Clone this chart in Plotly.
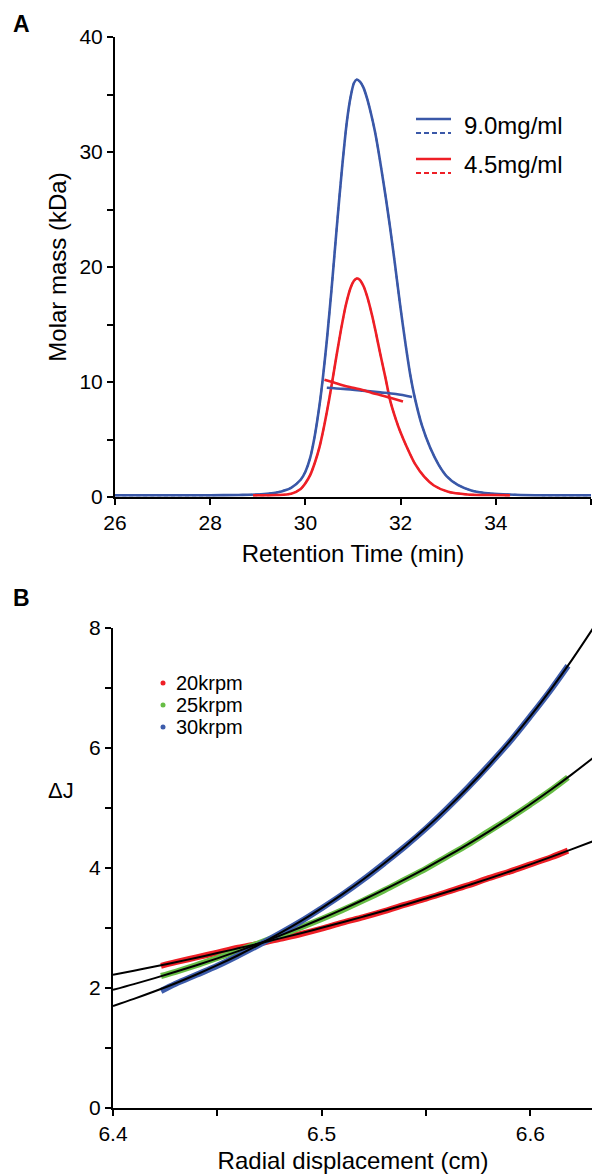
import plotly.graph_objects as go

# page body has an 8px default margin; figure coordinates are offset accordingly
OFF = 8
W, H = 600 - OFF, 1174 - OFF
FONT = "Liberation Sans, Arial, sans-serif"
BLUE = "#3a58a8"
RED = "#ee1f26"
GREEN = "#67bd45"
DBLUE = "#3d5cab"

# ---------------- Panel A data ----------------
t_blue = [26.0, 27.0, 28.0, 28.6, 29.0, 29.4, 29.7, 29.9, 30.0, 30.1, 30.2, 30.3, 30.36,
          30.45, 30.55, 30.66, 30.77, 30.87, 30.95, 31.02, 31.08, 31.15, 31.22, 31.3, 31.38,
          31.46, 31.53, 31.6, 31.69, 31.78, 31.88, 31.99, 32.1, 32.2, 32.3, 32.45, 32.62,
          32.8, 32.97, 33.2, 33.5, 33.9, 34.4, 35.0, 36.0]
m_blue = [0.15, 0.15, 0.15, 0.18, 0.22, 0.4, 0.8, 1.5, 2.2, 3.4, 5.4, 8.1, 10.1,
          13.6, 18.1, 23.5, 28.6, 32.6, 34.8, 36.0, 36.3, 36.1, 35.6, 34.6, 33.3,
          31.8, 30.2, 28.4, 26.0, 23.4, 20.3, 16.7, 13.4, 10.7, 8.6, 6.2, 4.3,
          2.8, 1.8, 1.05, 0.55, 0.3, 0.2, 0.15, 0.15]

t_red = [28.9, 29.4, 29.7, 29.9, 30.0, 30.1, 30.2, 30.3, 30.4, 30.5, 30.57, 30.65, 30.75,
         30.85, 30.95, 31.02, 31.08, 31.14, 31.22, 31.3, 31.4, 31.48, 31.57, 31.68, 31.78,
         31.9, 32.0, 32.13, 32.3, 32.5, 32.7, 33.0, 33.4, 33.9, 34.3]
m_red = [0.15, 0.17, 0.28, 0.7, 1.2, 1.9, 3.0, 4.4, 6.3, 8.5, 10.2, 12.2, 14.6,
         16.7, 18.2, 18.8, 19.0, 18.9, 18.35, 17.4, 15.8, 14.3, 12.5, 10.4, 8.4,
         6.75, 5.6, 4.35, 2.9, 1.75, 1.0, 0.45, 0.22, 0.17, 0.15]

t_mm_blue = [30.45, 30.8, 31.2, 31.57, 31.9, 32.24]
mm_blue = [9.5, 9.4, 9.25, 9.1, 8.95, 8.7]
t_mm_red = [30.4, 30.6, 30.8, 31.0, 31.2, 31.4, 31.57, 31.8, 32.05]
mm_red = [10.2, 9.95, 9.7, 9.5, 9.3, 9.05, 8.87, 8.6, 8.3]

labels_A = ["9.0mg/ml", "4.5mg/ml"]

# ---------------- Panel B data ----------------
r_fit = [6.40, 6.41, 6.42, 6.43, 6.44, 6.45, 6.46, 6.47, 6.48, 6.49, 6.50, 6.51,
         6.52, 6.53, 6.54, 6.55, 6.56, 6.57, 6.58, 6.59, 6.60, 6.61, 6.62, 6.63]
fit_20 = [2.220, 2.288, 2.358, 2.430, 2.505, 2.582, 2.661, 2.743, 2.827, 2.913, 3.003, 3.095,
          3.190, 3.287, 3.388, 3.492, 3.599, 3.710, 3.823, 3.941, 4.061, 4.186, 4.314, 4.446]
fit_25 = [1.970, 2.065, 2.165, 2.270, 2.379, 2.494, 2.615, 2.741, 2.874, 3.013, 3.158, 3.311,
          3.471, 3.639, 3.815, 3.999, 4.192, 4.395, 4.607, 4.830, 5.063, 5.308, 5.565, 5.834]
fit_30 = [1.700, 1.818, 1.945, 2.080, 2.225, 2.380, 2.546, 2.723, 2.913, 3.115, 3.332, 3.564,
          3.812, 4.078, 4.362, 4.665, 4.990, 5.337, 5.709, 6.106, 6.531, 6.986, 7.473, 7.993]

r_data = [6.423, 6.43, 6.44, 6.45, 6.46, 6.47, 6.48, 6.49, 6.50, 6.51, 6.52, 6.53, 6.54,
          6.55, 6.56, 6.57, 6.58, 6.59, 6.60, 6.61, 6.618]
dj_20 = [2.37, 2.43, 2.51, 2.59, 2.67, 2.74, 2.82, 2.90, 2.99, 3.09, 3.18, 3.28, 3.39,
         3.49, 3.60, 3.71, 3.83, 3.94, 4.06, 4.18, 4.29]
dj_25 = [2.20, 2.27, 2.38, 2.50, 2.62, 2.75, 2.88, 3.01, 3.15, 3.30, 3.46, 3.63, 3.81,
         3.99, 4.19, 4.39, 4.61, 4.83, 5.06, 5.30, 5.51]
dj_30 = [1.95, 2.07, 2.22, 2.37, 2.54, 2.72, 2.91, 3.11, 3.33, 3.56, 3.81, 4.08, 4.36,
         4.66, 4.99, 5.34, 5.71, 6.10, 6.53, 6.98, 7.37]
labels_B = ["20krpm", "25krpm", "30krpm"]


def xp(px):
    return (px - OFF) / W


def yp(py):
    return 1 - (py - OFF) / H


fig = go.Figure()

# Panel A traces
for t, m, c in [(t_blue, m_blue, BLUE), (t_red, m_red, RED)]:
    fig.add_trace(go.Scatter(x=t, y=m, mode="lines", xaxis="x", yaxis="y",
                             line=dict(color=c, width=2.6, shape="spline", smoothing=0.7),
                             showlegend=False, hoverinfo="skip"))
    fig.add_trace(go.Scatter(x=t, y=m, mode="lines", xaxis="x", yaxis="y",
                             line=dict(color=c, width=1.8, dash="4px,3px", shape="spline", smoothing=0.7),
                             showlegend=False, hoverinfo="skip"))
for t, m, c in [(t_mm_blue, mm_blue, BLUE), (t_mm_red, mm_red, RED)]:
    fig.add_trace(go.Scatter(x=t, y=m, mode="lines", xaxis="x", yaxis="y",
                             line=dict(color=c, width=2.6, shape="spline"),
                             showlegend=False, hoverinfo="skip"))

# Panel B traces
for d, c in [(dj_20, RED), (dj_25, GREEN), (dj_30, DBLUE)]:
    fig.add_trace(go.Scatter(x=r_data, y=d, mode="lines", xaxis="x2", yaxis="y2",
                             line=dict(color=c, width=6, shape="spline"),
                             showlegend=False, hoverinfo="skip"))
for f in [fit_20, fit_25, fit_30]:
    fig.add_trace(go.Scatter(x=r_fit, y=f, mode="lines", xaxis="x2", yaxis="y2",
                             line=dict(color="black", width=2, shape="spline"),
                             showlegend=False, hoverinfo="skip"))

axis_common = dict(showline=True, linecolor="black", linewidth=2, ticks="outside",
                   ticklen=6, tickwidth=2, tickcolor="black", showgrid=False,
                   zeroline=False, tickfont=dict(family=FONT, size=21, color="black"))

fig.update_layout(
    width=W, height=H, margin=dict(l=0, r=0, t=0, b=0, autoexpand=False),
    paper_bgcolor="white", plot_bgcolor="white",
    font=dict(family=FONT, color="black"),
    xaxis=dict(domain=[xp(115), xp(591)], range=[26, 36], anchor="y",
               tickvals=[26, 28, 30, 32, 34, 36],
               title=dict(text="Retention Time (min)", font=dict(size=24), standoff=12),
               **axis_common),
    yaxis=dict(domain=[yp(497), yp(37)], range=[0, 40], anchor="x",
               tickvals=[0, 10, 20, 30, 40],
               minor=dict(tickvals=[5, 15, 25, 35], ticks="outside", ticklen=6, tickwidth=2, tickcolor="black"),
               title=dict(text="Molar mass (kDa)", font=dict(size=24), standoff=6),
               **axis_common),
    xaxis2=dict(domain=[xp(113), xp(593)], range=[6.4, 6.63], anchor="y2",
                tickvals=[6.4, 6.5, 6.6], ticktext=["6.4", "6.5", "6.6"],
                minor=dict(tickvals=[6.45, 6.55], ticks="outside", ticklen=6, tickwidth=2, tickcolor="black"),
                title=dict(text="Radial displacement (cm)", font=dict(size=24), standoff=8),
                **axis_common),
    yaxis2=dict(domain=[yp(1108), yp(628)], range=[0, 8], anchor="x2",
                tickvals=[0, 2, 4, 6, 8],
                minor=dict(tickvals=[1, 3, 5, 7], ticks="outside", ticklen=6, tickwidth=2, tickcolor="black"),
                **axis_common),
)

ann = []
shapes = []
# panel labels
ann.append(dict(x=xp(11), y=yp(24), xref="paper", yref="paper", text="<b>A</b>", showarrow=False,
                xanchor="left", yanchor="middle", font=dict(size=23, family=FONT)))
ann.append(dict(x=xp(11), y=yp(598), xref="paper", yref="paper", text="<b>B</b>", showarrow=False,
                xanchor="left", yanchor="middle", font=dict(size=23, family=FONT)))
# Delta J label
ann.append(dict(x=xp(61), y=yp(790), xref="paper", yref="paper", text="ΔJ", showarrow=False,
                xanchor="center", yanchor="middle", font=dict(size=22, family=FONT)))

# Panel A legend
for i, (lab, c) in enumerate(zip(labels_A, [BLUE, RED])):
    ys = 119 + 40 * i
    shapes.append(dict(type="line", xref="paper", yref="paper", x0=xp(416), x1=xp(451),
                       y0=yp(ys), y1=yp(ys), line=dict(color=c, width=2.6)))
    shapes.append(dict(type="line", xref="paper", yref="paper", x0=xp(416), x1=xp(451),
                       y0=yp(ys + 14), y1=yp(ys + 14), line=dict(color=c, width=2.2, dash="5px,3px")))
    ann.append(dict(x=xp(462), y=yp(ys + 6), xref="paper", yref="paper", text=lab, showarrow=False,
                    xanchor="left", yanchor="middle", font=dict(size=24, family=FONT)))

# Panel B legend
for i, (lab, c) in enumerate(zip(labels_B, [RED, GREEN, DBLUE])):
    ys = 683 + 22 * i
    shapes.append(dict(type="circle", xref="paper", yref="paper",
                       x0=xp(160.5), x1=xp(165.5), y0=yp(ys + 2.5), y1=yp(ys - 2.5),
                       fillcolor=c, line=dict(color=c, width=0)))
    ann.append(dict(x=xp(174), y=yp(ys), xref="paper", yref="paper", text=lab, showarrow=False,
                    xanchor="left", yanchor="middle", font=dict(size=20, family=FONT)))

fig.update_layout(annotations=ann, shapes=shapes)
fig.write_html("out.html")
